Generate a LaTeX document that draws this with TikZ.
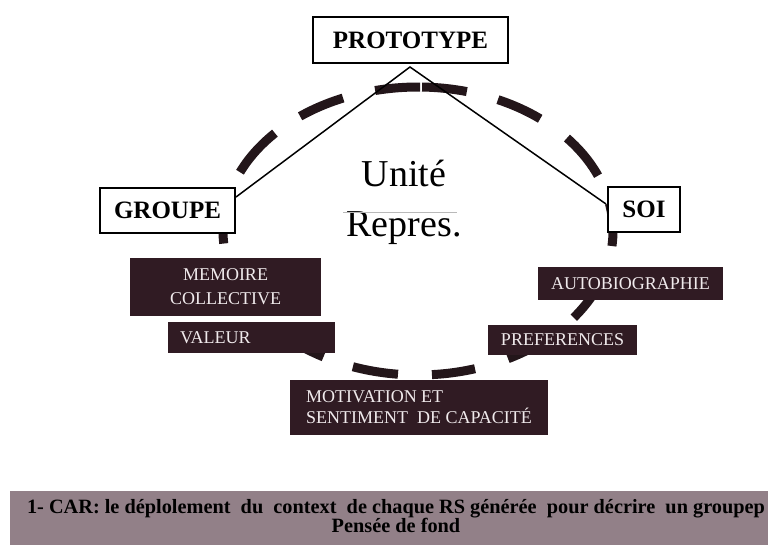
\documentclass[tikz,border=0pt]{standalone}
\usepackage{fontspec}
\setmainfont{Liberation Serif}
\usetikzlibrary{calc}
\definecolor{dashc}{RGB}{35,22,26}
\definecolor{darkfill}{RGB}{48,27,35}
\definecolor{boxtext}{RGB}{240,234,236}
\definecolor{bandc}{RGB}{146,128,136}
\begin{document}
\begin{tikzpicture}[x=1pt,y=-1pt,
  whitebox/.style={draw=black, line width=2pt, fill=white,
    font=\fontsize{25}{30}\selectfont\bfseries, inner sep=0pt},
  darkbox/.style={fill=darkfill, text=boxtext, inner sep=0pt,
    font=\fontsize{18}{22}\selectfont},
  ringdash/.style={draw=dashc, line width=9pt},
  link/.style={draw=black, line width=1.5pt}
]
\useasboundingbox (0,0) rectangle (768,545);
\fill[white] (0,0) rectangle (768,545);

% dashed ring (ellipse)
\foreach \a/\b in {102.7/89.4, 88.8/75.5, 127.2/112.6, 155.9/137.2,
                   65.8/51.2, 40.2/22.6, 11/-6, 172/185,
                   -135/-119, -109.5/-95.9, -85.9/-73, -62.5/-50, -37/-24}
  \draw[ringdash] plot[domain=\a:\b, samples=14]
    ({418+195*cos(\x)},{231-144*sin(\x)});

% white boxes
\node[whitebox, minimum width=195pt, minimum height=46pt] (proto) at (410.5,40) {PROTOTYPE};
\node[whitebox, minimum width=135pt, minimum height=45pt] (grp) at (167.5,210.5) {GROUPE};
\node[whitebox, minimum width=72pt, minimum height=45pt] (soi) at (644,209.5) {SOI};

\coordinate (apex) at (410,67);
\coordinate (gl) at ($(grp.north east)+(0,10)$);
\coordinate (sl) at ($(soi.north west)+(-1,18)$);
\draw[link] (gl) -- (apex) -- (sl);

% central text
\node[anchor=base, font=\fontsize{38}{44}\selectfont] (unite) at (404,187) {Unité};
\node[anchor=base, font=\fontsize{38}{44}\selectfont] (repres) at (404,237) {Repres.};
\draw[gray!55, line width=0.8pt] (343,212) -- (457,212);

% dark boxes
\node[darkbox, minimum width=191pt, minimum height=58pt, align=center,
  font=\fontsize{18}{24}\selectfont] (memo) at (225.5,287) {MEMOIRE\\COLLECTIVE};
\node[darkbox, minimum height=31pt, text width=143pt, inner xsep=12pt, align=left]
  (valeur) at (251.5,337.5) {VALEUR};
\node[darkbox, minimum width=185pt, minimum height=33pt] (auto) at (630.5,283.5) {AUTOBIOGRAPHIE};
\node[darkbox, minimum width=149pt, minimum height=30pt] (pref) at (562.5,340) {PREFERENCES};
\node[darkbox, minimum width=258pt, minimum height=55pt, align=left,
  font=\fontsize{18}{21}\selectfont] (motiv) at (419,407.5)
  {MOTIVATION ET\\SENTIMENT\ \ DE CAPACITÉ};

% bottom band
\node[fill=bandc, minimum width=758pt, minimum height=54pt, inner sep=0pt] (band) at (389,518) {};
\node[font=\fontsize{20.3}{19}\selectfont\bfseries, align=center, inner sep=0pt] (caption) at (396,516)
  {1- CAR: le déplolement\ \ du\ \ context\ \ de chaque RS générée\ \ pour décrire\ \ un groupep\\Pensée de fond};
\end{tikzpicture}
\end{document}
